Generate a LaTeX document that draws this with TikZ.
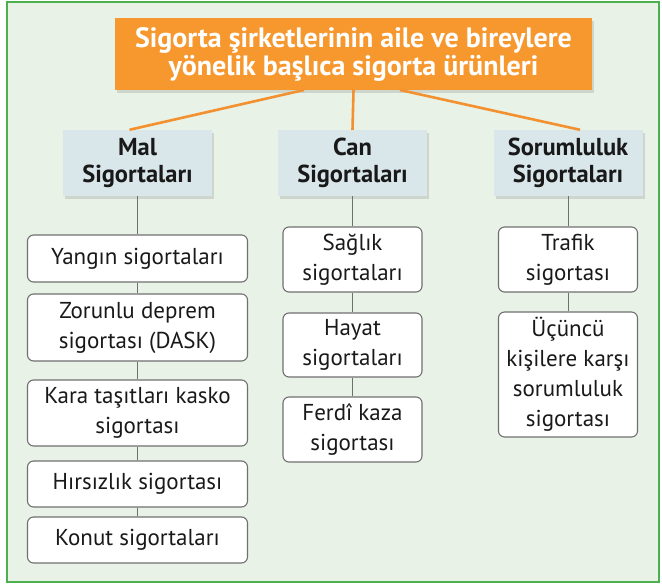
\documentclass[tikz,border=0pt]{standalone}
\usepackage{fontspec}
\setmainfont{PT Sans}
\usetikzlibrary{shadows}
\definecolor{framegreen}{HTML}{4CAF50}
\definecolor{panelgreen}{HTML}{E8F2E6}
\definecolor{titleorange}{HTML}{F7982F}
\definecolor{linkorange}{HTML}{F39130}
\definecolor{groupblue}{HTML}{D9E6EA}
\definecolor{leafgray}{HTML}{707070}
\begin{document}
\begin{tikzpicture}[x=1pt,y=-1pt,
  titlebox/.style={fill=titleorange,text=white,minimum width=477pt,
    minimum height=72pt,inner sep=0pt,align=center,
    font=\bfseries\fontsize{28}{28}\selectfont,
    drop shadow={shadow xshift=2pt,shadow yshift=-3pt,opacity=0.25}},
  groupbox/.style={fill=groupblue,text=black!90,minimum width=149pt,
    minimum height=66pt,inner sep=0pt,align=center,
    font=\bfseries\fontsize{24.5}{27}\selectfont,
    drop shadow={shadow xshift=2pt,shadow yshift=-3pt,opacity=0.25}},
  leafbox/.style={draw=leafgray,fill=white,line width=1.1pt,
    rounded corners=6pt,inner sep=0pt,align=center,text=black!90,
    font=\fontsize{23}{30}\selectfont},
  uplink/.style={linkorange,line width=2.6pt},
  downlink/.style={leafgray,line width=0.9pt}]
  \useasboundingbox (0,0) rectangle (662,588);
  % Panel and frame.
  \draw[framegreen,fill=panelgreen,line width=2.5pt] (7,2) rectangle (659,582);
  % Title and the three groups.
  \node[titlebox] (title) at (353.5,54)
    {Sigorta şirketlerinin aile ve bireylere\\yönelik başlıca sigorta ürünleri};
  \node[groupbox] (mal) at (137.5,163) {Mal\\Sigortaları};
  \node[groupbox] (can) at (352.5,163) {Can\\Sigortaları};
  \node[groupbox] (sor) at (568,163) {Sorumluluk\\Sigortaları};
  \coordinate (tl) at (304,90);
  \coordinate (tr) at (400,90);
  \draw[uplink] (tl) -- ([xshift=-8pt]mal.north);
  \draw[uplink] (title.south) -- (can.north);
  \draw[uplink] (tr) -- ([xshift=12pt]sor.north);
  % Mal sigortalari.
  \node[leafbox,minimum width=220pt,minimum height=47pt] (m1) at (137.5,258.5)
    {Yangın sigortaları};
  \node[leafbox,minimum width=220pt,minimum height=67pt] (m2) at (137.5,327.5)
    {Zorunlu deprem\\sigortası (DASK)};
  \node[leafbox,minimum width=220pt,minimum height=66pt] (m3) at (137.5,413)
    {Kara taşıtları kasko\\sigortası};
  \node[leafbox,minimum width=220pt,minimum height=46pt] (m4) at (137.5,484)
    {Hırsızlık sigortası};
  \node[leafbox,minimum width=220pt,minimum height=46pt] (m5) at (137.5,540)
    {Konut sigortaları};
  % Can sigortalari.
  \node[leafbox,minimum width=139pt,minimum height=65pt] (c1) at (352.5,259.5)
    {Sağlık\\sigortaları};
  \node[leafbox,minimum width=139pt,minimum height=64pt] (c2) at (352.5,345)
    {Hayat\\sigortaları};
  \node[leafbox,minimum width=139pt,minimum height=65pt] (c3) at (352.5,429.5)
    {Ferdî kaza\\sigortası};
  % Sorumluluk sigortalari.
  \node[leafbox,minimum width=139pt,minimum height=65pt] (s1) at (568,259.5)
    {Trafik\\sigortası};
  \node[leafbox,minimum width=139pt,minimum height=125pt] (s2) at (568,374.5)
    {Üçüncü\\kişilere karşı\\sorumluluk\\sigortası};
  \foreach \a/\b in {mal/m1,m1/m2,m2/m3,m3/m4,m4/m5,can/c1,c1/c2,c2/c3,sor/s1,s1/s2}
    \draw[downlink] (\a) -- (\b);
\end{tikzpicture}
\end{document}
